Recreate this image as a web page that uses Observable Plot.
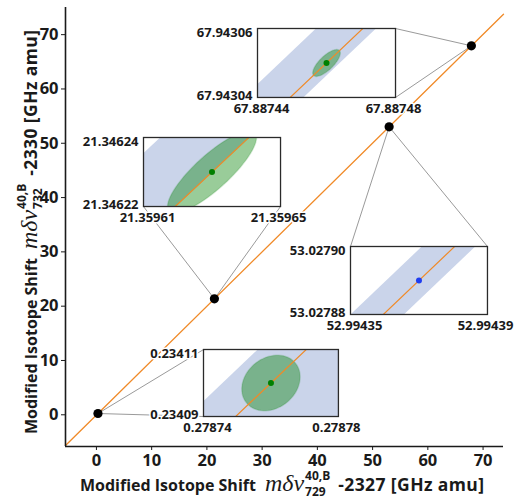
<!DOCTYPE html>
<html><head><meta charset="utf-8">
<script src="https://cdn.jsdelivr.net/npm/d3@7"></script>
<script src="https://cdn.jsdelivr.net/npm/@observablehq/plot@0.6"></script>
<style>
html,body{margin:0;padding:0;background:#fff;}
#chart{position:relative;width:516px;height:499px;overflow:hidden;font-family:"Open Sans",sans-serif;color:#1a1a1a;}
#chart .layer{position:absolute;}
#chart svg{overflow:visible;max-width:none !important;}
.inset text{paint-order:stroke;stroke:#fff;stroke-width:3px;stroke-linejoin:round;}
</style></head><body><div id="chart"></div>
<script>
// ---------- data ----------
const xValues = [0.27876, 21.35963, 52.99437, 67.88746];   // mδν729 - 2327
const yValues = [0.23410, 21.34623, 53.02789, 67.94305];   // mδν732 - 2330
const fitSlope = 1.001483;
const fitIntercept = -0.04507;
const mainXTicks = [0, 10, 20, 30, 40, 50, 60, 70];
const mainYTicks = [0, 10, 20, 30, 40, 50, 60, 70];
const mainXDomain = [-5.6, 73.7];
const mainYDomain = [-5.84, 75];

// zoom windows of the insets
const insetXMin = [0.27874, 21.35961, 52.99435, 67.88744];
const insetXMax = [0.27878, 21.35965, 52.99439, 67.88748];
const insetYMin = [0.23409, 21.34622, 53.02788, 67.94304];
const insetYMax = [0.23411, 21.34624, 53.02790, 67.94306];
// local slope of the fitted line inside the insets
const insetLineSlope = [0.955, 0.93, 0.96, 0.95];
// fit uncertainty band: x offsets from the line (units of 1e-5)
const bandLow  = [-1.41, -2.56, -0.93, -1.33];
const bandHigh = [ 4.5,   0.05,  0.63,  0.41];
// error ellipses: sigma x, sigma y (units of 1e-5) and correlation
const ellSx  = [0.865, 1.30, null, 0.40];
const ellSy  = [0.83,  1.19, null, 0.39];
const ellRho = [0.22,  0.84, null, 0.74];

// ---------- layout & style ----------
// inset boxes placed in main-plot data units: [xLeft, xRight, yTop, yBottom]
const insetBox = [
  [19.4, 43.83, 12.02, -0.32],
  [8.52, 33.33, 51.06, 38.35],
  [46.0, 70.8, 30.99, 18.47],
  [29.16, 54.15, 71.13, 58.43]
];
// which corners the connectors go to: 0 = left/top, 1 = right/bottom
const connectCorners = [
  [[0,0],[0,1]],
  [[0,1],[1,1]],
  [[0,0],[1,0]],
  [[1,0],[1,1]]
];
const dotColor = ["#008000", "#008000", "#1f3df0", "#008000"];
const orange = "#f08a28";
const bandColor = "#cad4ea";
const ink = "#1a1a1a";

const root = document.getElementById("chart");

const points = xValues.map((x, i) => ({x, y: yValues[i]}));
const fitLine = mainXDomain.map(x => ({x, y: fitSlope * x + fitIntercept}));
const connectors = [];
points.forEach((p, i) => {
  const b = insetBox[i];
  for (const [cxI, cyI] of connectCorners[i]) {
    connectors.push({x1: p.x, y1: p.y, x2: b[cxI], y2: b[2 + cyI]});
  }
});

const main = Plot.plot({
  width: 516, height: 499,
  marginLeft: 65, marginRight: 13, marginTop: 7, marginBottom: 53,
  x: {domain: mainXDomain, label: null},
  y: {domain: mainYDomain, label: null},
  style: {fontFamily: "Open Sans", fontSize: "16.5px", fontWeight: 700, color: ink, background: "transparent", overflow: "visible"},
  marks: [
    Plot.link(connectors, {x1: "x1", y1: "y1", x2: "x2", y2: "y2", stroke: "#9a9a9a", strokeWidth: 1}),
    Plot.line(fitLine, {x: "x", y: "y", stroke: orange, strokeWidth: 1.3}),
    Plot.dot(points, {x: "x", y: "y", r: 4.6, fill: "black"}),
    Plot.ruleX([mainXDomain[0]], {stroke: ink, strokeWidth: 1.6}),
    Plot.ruleY([mainYDomain[0]], {stroke: ink, strokeWidth: 1.6}),
    Plot.axisX({ticks: mainXTicks, tickSize: 4, tickPadding: 4, label: null, stroke: ink}),
    Plot.axisY({ticks: mainYTicks, tickSize: 4, tickPadding: 3, label: null, stroke: ink})
  ]
});
const mainLayer = document.createElement("div");
mainLayer.className = "layer";
mainLayer.style.left = "0px"; mainLayer.style.top = "0px";
mainLayer.appendChild(main);
root.appendChild(mainLayer);

const sx = main.scale("x"), sy = main.scale("y");

// ---------- axis titles ----------
const svg = d3.select(main);
function mathLabel(g, sub, rest) {
  g.attr("text-anchor", "start").attr("fill", ink);
  let x = 0;
  const t1 = g.append("text").attr("x", x).attr("font-size", 16).attr("font-weight", 700)
    .attr("font-family", "Open Sans").text("Modified Isotope Shift");
  x += t1.node().getComputedTextLength() + 9;
  const t2 = g.append("text").attr("x", x).attr("font-family", "Liberation Serif, serif")
    .attr("font-style", "italic").attr("font-weight", 400).attr("font-size", 24).text("mδν");
  x += t2.node().getComputedTextLength() + 1;
  const s1 = g.append("text").attr("x", x).attr("y", -11).attr("font-size", 12).attr("font-weight", 700)
    .attr("font-family", "Open Sans").text("40,B");
  const s2 = g.append("text").attr("x", x).attr("y", 5).attr("font-size", 12).attr("font-weight", 700)
    .attr("font-family", "Open Sans").text(sub);
  x += Math.max(s1.node().getComputedTextLength(), s2.node().getComputedTextLength()) + 8;
  g.append("text").attr("x", x).attr("font-size", 17.5).attr("font-weight", 700).attr("letter-spacing", 0.4)
    .attr("font-family", "Open Sans").text(rest);
}
mathLabel(svg.append("g").attr("transform", "translate(80,490.5)"), "729", "-2327 [GHz amu]");
mathLabel(svg.append("g").attr("transform", "translate(37,434) rotate(-90)"), "732", "-2330 [GHz amu]");

// ---------- insets ----------
const fmt = d3.format(".5f");
function insetPlot(i) {
  const x0 = insetXMin[i], x1 = insetXMax[i], y0 = insetYMin[i], y1 = insetYMax[i];
  const cx = xValues[i], cy = yValues[i];
  const s = insetLineSlope[i];
  const pad = (y1 - y0);
  const band = [y0 - pad, y1 + pad].map(y => {
    const xl = cx + (y - cy) / s;
    return {y, x: xl, lo: xl + bandLow[i] * 1e-5, hi: xl + bandHigh[i] * 1e-5};
  });
  const ell = [];
  if (ellSx[i] != null) {
    const ax = ellSx[i] * 1e-5, ay = ellSy[i] * 1e-5, r = ellRho[i];
    for (let k = 0; k < 72; k++) {
      const t = k / 72 * 2 * Math.PI;
      ell.push({x: cx + ax * Math.cos(t), y: cy + ay * (r * Math.cos(t) + Math.sqrt(1 - r * r) * Math.sin(t))});
    }
  }
  const b = insetBox[i];
  const left = sx.apply(b[0]), right = sx.apply(b[1]);
  const top = sy.apply(b[2]), bottom = sy.apply(b[3]);
  const ml = 70, mr = 45, mt = 10, mb = 26;
  const W = right - left, H = bottom - top;
  const p = Plot.plot({
    width: W + ml + mr, height: H + mt + mb,
    marginLeft: ml, marginRight: mr, marginTop: mt, marginBottom: mb,
    x: {domain: [x0, x1], label: null},
    y: {domain: [y0, y1], label: null},
    style: {fontFamily: "Open Sans", fontSize: "13px", fontWeight: 700, color: ink, background: "transparent", overflow: "visible", maxWidth: "none"},
    marks: [
      Plot.frame({fill: "white", stroke: null}),
      Plot.areaX(band, {y: "y", x1: "lo", x2: "hi", fill: bandColor, clip: true}),
      ell.length ? Plot.line(ell, {x: "x", y: "y", fill: "#008000", fillOpacity: 0.4, stroke: "#008000", strokeOpacity: 0.15, curve: "linear-closed", clip: true}) : null,
      Plot.line(band, {x: "x", y: "y", stroke: orange, strokeWidth: 1.2, clip: true}),
      Plot.dot([{x: cx, y: cy}], {x: "x", y: "y", r: 3, fill: dotColor[i]}),
      Plot.frame({stroke: "#2a2a2a", strokeWidth: 1.3}),
      Plot.axisX({ticks: [x0], tickFormat: fmt, tickSize: 0, tickPadding: 6, dx: 4, label: null}),
      Plot.axisX({ticks: [x1], tickFormat: fmt, tickSize: 0, tickPadding: 6, dx: -2, label: null}),
      Plot.axisY({ticks: [y1], tickFormat: fmt, tickSize: 0, tickPadding: 5, dy: 4, label: null}),
      Plot.axisY({ticks: [y0], tickFormat: fmt, tickSize: 0, tickPadding: 5, dy: -2, label: null})
    ]
  });
  const layer = document.createElement("div");
  layer.className = "layer inset";
  layer.style.left = (left - ml) + "px";
  layer.style.top = (top - mt) + "px";
  layer.style.width = (W + ml + mr) + "px";
  layer.appendChild(p);
  root.appendChild(layer);
}
for (let i = 0; i < xValues.length; i++) insetPlot(i);
</script></body></html>
